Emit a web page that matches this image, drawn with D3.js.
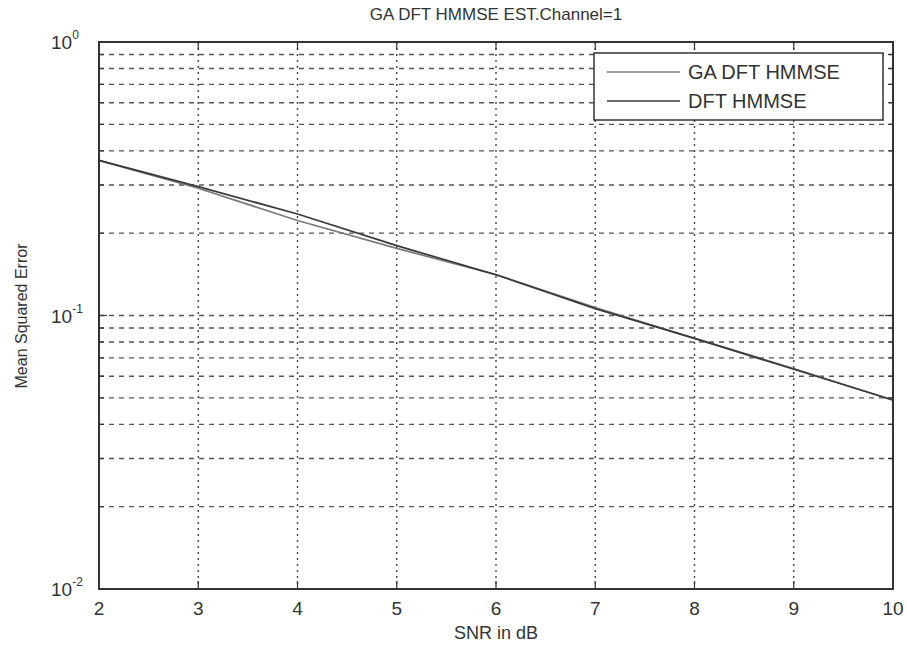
<!DOCTYPE html>
<html>
<head>
<meta charset="utf-8">
<script src="https://cdn.jsdelivr.net/npm/d3@7"></script>
<style>
  body { margin: 0; background: #fff; }
  text { font-family: "Liberation Sans", Arial, sans-serif; fill: #333; }
</style>
</head>
<body>
<div id="chart"></div>
<script>
// data
var snr = [2, 3, 4, 5, 6, 7, 8, 9, 10];
var gaDftHmmse = [0.369, 0.292, 0.2225, 0.176, 0.141, 0.107, 0.0825, 0.064, 0.049];
var dftHmmse   = [0.369, 0.296, 0.235, 0.180, 0.141, 0.106, 0.0825, 0.0636, 0.0491];
var xTicks = [2, 3, 4, 5, 6, 7, 8, 9, 10];
var yDecades = [0.01, 0.1, 1];
var seriesNames = ["GA DFT HMMSE", "DFT HMMSE"];

var w = 907, h = 646;
// plot box (note: "top" is reserved on window, so use other names)
var plotL = 99, plotR = 893, plotT = 42, plotB = 589;

var svg = d3.select("#chart").append("svg")
  .attr("width", w)
  .attr("height", h);

var x = d3.scaleLinear().domain([2, 10]).range([plotL, plotR]);
var y = d3.scaleLog().domain([0.01, 1]).range([plotB, plotT]);

// minor values 0.02..0.09, 0.2..0.9
var minor = [];
[0.01, 0.1].forEach(function(d) {
  for (var k = 2; k <= 9; k++) minor.push(+(d * k).toFixed(3));
});

var grid = svg.append("g").attr("id", "grid");

grid.selectAll("line.hgrid")
  .data(minor.concat([0.1]))
  .enter()
  .append("line")
  .attr("class", "hgrid")
  .attr("x1", plotL)
  .attr("x2", plotR)
  .attr("y1", function(d) { return y(d); })
  .attr("y2", function(d) { return y(d); })
  .attr("stroke", "#555")
  .attr("stroke-width", 1.4)
  .attr("stroke-dasharray", "5,5");

grid.selectAll("line.vgrid")
  .data(xTicks.slice(1, -1))
  .enter()
  .append("line")
  .attr("class", "vgrid")
  .attr("x1", function(d) { return x(d); })
  .attr("x2", function(d) { return x(d); })
  .attr("y1", plotT)
  .attr("y2", plotB)
  .attr("stroke", "#444")
  .attr("stroke-width", 1.4)
  .attr("stroke-dasharray", "2,4");

// tick marks on all four sides
var ticks = svg.append("g").attr("id", "ticks").attr("stroke", "#333").attr("stroke-width", 1.2);
xTicks.forEach(function(d) {
  ticks.append("line").attr("x1", x(d)).attr("x2", x(d)).attr("y1", plotB).attr("y2", plotB - 8);
  ticks.append("line").attr("x1", x(d)).attr("x2", x(d)).attr("y1", plotT).attr("y2", plotT + 8);
});
minor.concat(yDecades).forEach(function(d) {
  var len = yDecades.indexOf(d) >= 0 ? 8 : 5;
  ticks.append("line").attr("x1", plotL).attr("x2", plotL + len).attr("y1", y(d)).attr("y2", y(d));
  ticks.append("line").attr("x1", plotR).attr("x2", plotR - len).attr("y1", y(d)).attr("y2", y(d));
});

// lines
var line = d3.line()
  .x(function(d, i) { return x(snr[i]); })
  .y(function(d) { return y(d); });

svg.append("path")
  .datum(gaDftHmmse)
  .attr("d", line)
  .attr("fill", "none")
  .attr("stroke", "#7a7a7a")
  .attr("stroke-width", 1.7);

svg.append("path")
  .datum(dftHmmse)
  .attr("d", line)
  .attr("fill", "none")
  .attr("stroke", "#3a3a3a")
  .attr("stroke-width", 1.7);

// frame
svg.append("rect")
  .attr("x", plotL)
  .attr("y", plotT)
  .attr("width", plotR - plotL)
  .attr("height", plotB - plotT)
  .attr("fill", "none")
  .attr("stroke", "#333")
  .attr("stroke-width", 2);

// x tick labels
svg.append("g").selectAll("text")
  .data(xTicks)
  .enter()
  .append("text")
  .attr("x", function(d) { return x(d); })
  .attr("y", 615)
  .attr("text-anchor", "middle")
  .attr("font-size", 19)
  .text(function(d) { return d; });

// y tick labels 10^k
var yl = svg.append("g").selectAll("text")
  .data(yDecades)
  .enter()
  .append("text")
  .attr("x", 51)
  .attr("y", function(d) { return y(d) + 7; })
  .attr("font-size", 19);
yl.append("tspan").text("10");
yl.append("tspan")
  .attr("dy", -10)
  .attr("font-size", 12)
  .text(function(d) { return Math.round(Math.log10(d)); });

// title and axis labels
svg.append("text")
  .attr("x", 496)
  .attr("y", 20)
  .attr("text-anchor", "middle")
  .attr("font-size", 17)
  .text("GA DFT HMMSE EST.Channel=1");

svg.append("text")
  .attr("x", 496)
  .attr("y", 639)
  .attr("text-anchor", "middle")
  .attr("font-size", 18)
  .text("SNR in dB");

svg.append("text")
  .attr("transform", "translate(27,316) rotate(-90)")
  .attr("text-anchor", "middle")
  .attr("font-size", 16)
  .text("Mean Squared Error");

// legend
var legend = svg.append("g").attr("id", "legend");
legend.append("rect")
  .attr("x", 594)
  .attr("y", 53)
  .attr("width", 289)
  .attr("height", 67)
  .attr("fill", "#fff")
  .attr("stroke", "#333")
  .attr("stroke-width", 1.5);

var legendColors = ["#7a7a7a", "#3a3a3a"];
seriesNames.forEach(function(name, i) {
  var ly = 72 + i * 29;
  legend.append("line")
    .attr("x1", 607).attr("x2", 680)
    .attr("y1", ly).attr("y2", ly)
    .attr("stroke", legendColors[i])
    .attr("stroke-width", 1.6);
  legend.append("text")
    .attr("x", 688)
    .attr("y", ly + 7)
    .attr("font-size", 20)
    .text(name);
});
</script>
</body>
</html>
